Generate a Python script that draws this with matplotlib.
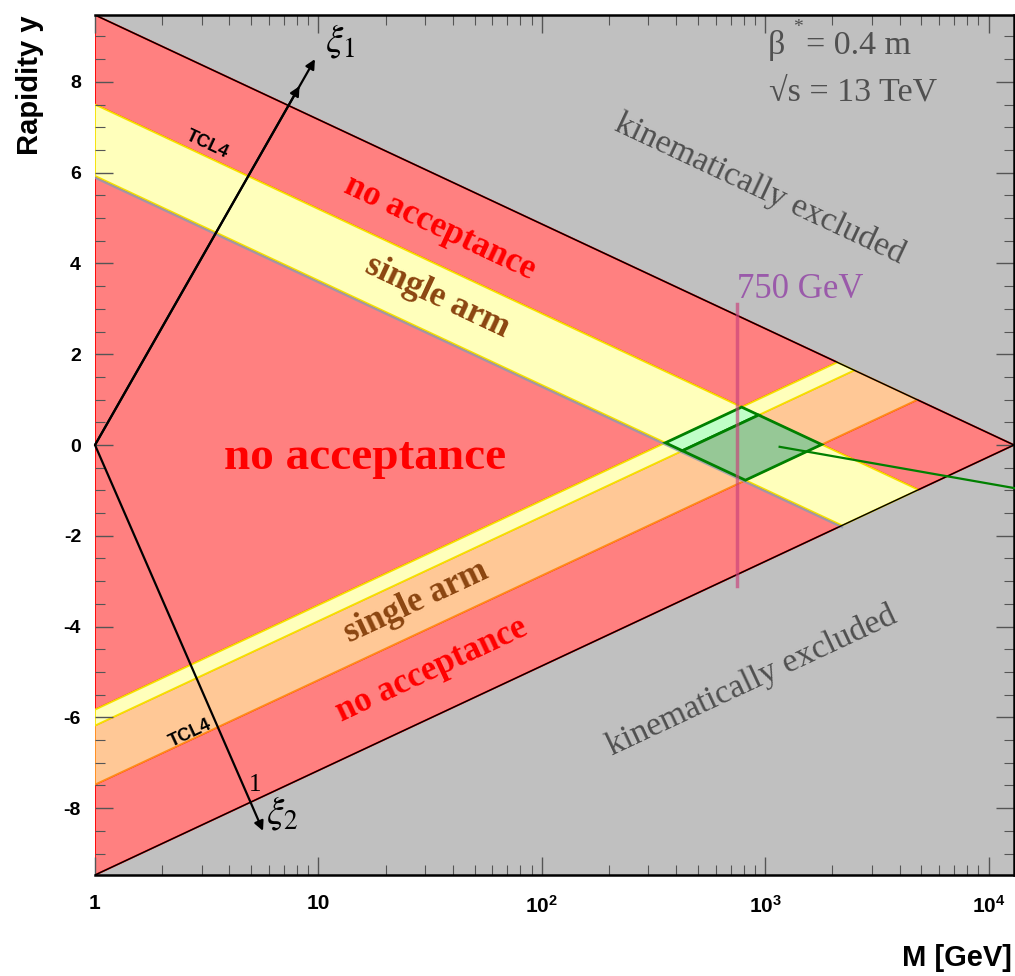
import numpy as np
import matplotlib
matplotlib.use('Agg')
import matplotlib.pyplot as plt
from matplotlib.patches import Polygon
from matplotlib.ticker import MultipleLocator, LogLocator, NullFormatter

# ---------------- data ----------------
sqrt_s = 13000.0                       # GeV
xi1_edges = [0.0289, 0.1391]           # arm 1 acceptance (upper, TCL4 at upper edge)
xi2_edges = [0.0262, 0.0372, 0.1363]   # arm 2: thin yellow / orange acceptance edges
m_mark = 750.0                         # GeV
m_mark_yrange = [-3.1, 3.1]
x_ticks = [1, 10, 100, 1000, 10000]
x_tick_labels = ['1', '10', r'$\mathbf{10^{2}}$', r'$\mathbf{10^{3}}$', r'$\mathbf{10^{4}}$']
y_ticks = [-8, -6, -4, -2, 0, 2, 4, 6, 8]

# colours
C_RED, E_RED = '#FF8080', '#FF0000'
C_YEL, E_YEL = '#FFFFBB', '#F5E000'
C_ORA, E_ORA = '#FFC896', '#FF8C1A'
C_LGR, C_DGR, E_GR = '#C0FFC8', '#96C896', '#008000'
BG = '#C0C0C0'

plt.rcParams['mathtext.fontset'] = 'custom'
plt.rcParams['mathtext.bf'] = 'Liberation Sans:bold'
plt.rcParams['mathtext.rm'] = 'Liberation Sans'

fig = plt.figure(figsize=(10.15, 9.76), dpi=100)
ax = fig.add_axes([95/1015, 101/976, 919/1015, 860/976])
ax.set_facecolor(BG)
L = np.log(sqrt_s)
ax.set_xscale('log')
ax.set_xlim(1, sqrt_s)
ax.set_ylim(-L, L)

P = [-60.0] + [np.log(x * sqrt_s) for x in xi1_edges] + [L]
Q = [-60.0] + [np.log(x * sqrt_s) for x in xi2_edges] + [L]

# cell colours: rows = p interval, columns = q interval
cell = [['r', 'y', 'o', 'r'],
        ['y', 'lg', 'dg', 'y'],
        ['r', 'y', 'o', 'r']]
style = {'r': (C_RED, E_RED, 1.0), 'y': (C_YEL, E_YEL, 1.2), 'o': (C_ORA, E_ORA, 1.1),
         'lg': (C_LGR, E_GR, 1.3), 'dg': (C_DGR, E_GR, 1.3)}


def clip(poly):
    out = []
    n = len(poly)
    for k in range(n):
        a, b = poly[k], poly[(k + 1) % n]
        fa, fb = a[0] + a[1], b[0] + b[1]
        if fa >= 0:
            out.append(a)
        if (fa >= 0) != (fb >= 0):
            t = fa / (fa - fb)
            out.append((a[0] + t * (b[0] - a[0]), a[1] + t * (b[1] - a[1])))
    return out


def to_my(pts):
    return [(np.exp((p + q) / 2.0), (p - q) / 2.0) for p, q in pts]


for i in range(3):
    for j in range(4):
        rect = [(P[i], Q[j]), (P[i + 1], Q[j]), (P[i + 1], Q[j + 1]), (P[i], Q[j + 1])]
        pts = clip(rect)
        if len(pts) < 3:
            continue
        fc, ec, z = style[cell[i][j]]
        lw = 2.0 if cell[i][j] in ('lg', 'dg') else 1.3
        ax.add_patch(Polygon(to_my(pts), closed=True, facecolor=fc, edgecolor=ec,
                             lw=lw, zorder=z))

# grey shading line under the lower edge of the upper yellow band
pa = P[1]
Mg = np.array([1.0, np.exp((pa + L) / 2.0)])
ax.plot(Mg, pa - np.log(Mg) - 0.04, color='#8C9CB0', lw=1.6, zorder=1.25, alpha=0.8)

# kinematic limits
Mk = np.array([1.0, sqrt_s])
ax.plot(Mk, L - np.log(Mk), color='black', lw=1.0, zorder=2)
ax.plot(Mk, np.log(Mk) - L, color='black', lw=1.0, zorder=2)

# 750 GeV line
ax.plot([m_mark, m_mark], m_mark_yrange, color='#C8407A', lw=2.5, alpha=0.65, zorder=2.2)
ax.text(745, 3.42, '750 GeV', color='#9A5AAA', fontsize=25, family='Liberation Serif',
        ha='left', va='center', zorder=5)

# green pointer line
ax.plot([1161, 13070], [-0.04, -0.95], color='#008000', lw=1.6, zorder=5, clip_on=False)

# xi arrows
arw = dict(arrowstyle='-|>', color='black', lw=1.6, mutation_scale=14, shrinkA=0, shrinkB=0)
ax.annotate('', xy=(9.65, 8.50), xytext=(1.0, 0.0), arrowprops=arw, zorder=6)
ax.annotate('', xy=(10 ** (0.93 * np.log10(9.65)), 0.93 * 8.50), xytext=(1.0, 0.0),
            arrowprops=arw, zorder=6)
ax.annotate('', xy=(5.65, -8.50), xytext=(1.0, 0.0), arrowprops=arw, zorder=6)
ax.text(12.5, 8.9, r'$\xi_{1}$', fontsize=28, math_fontfamily='stix', ha='center',
        va='center', zorder=6)
ax.text(6.9, -8.1, r'$\xi_{2}$', fontsize=28, math_fontfamily='stix', ha='center',
        va='center', zorder=6)
ax.text(5.2, -7.5, '1', fontsize=18, family='Liberation Serif', ha='center',
        va='center', zorder=6)

# rotation of slope -1 lines in display space
fig.canvas.draw()
p0 = ax.transData.transform((1.0, 0.0))
p1 = ax.transData.transform((np.e, -1.0))
ang = np.degrees(np.arctan2(p1[1] - p0[1], p1[0] - p0[0]))  # negative

serif_b = dict(family='Liberation Serif', weight='bold', ha='center', va='center',
               zorder=5, rotation_mode='anchor')
ax.text(16.1, -0.29, 'no acceptance', color='#FF0000', fontsize=34, **serif_b)
ax.text(35.0, 4.79, 'no acceptance', color='#FF0000', fontsize=25, rotation=ang, **serif_b)
ax.text(33.9, 3.27, 'single arm', color='#8B4510', fontsize=25, rotation=ang, **serif_b)
ax.text(27.3, -3.47, 'single arm', color='#8B4510', fontsize=25, rotation=-ang, **serif_b)
ax.text(32.2, -4.97, 'no acceptance', color='#FF0000', fontsize=25, rotation=-ang, **serif_b)

serif_g = dict(family='Liberation Serif', color='#505050', ha='center', va='center',
               zorder=5, rotation_mode='anchor')
ax.text(945, 5.63, 'kinematically excluded', fontsize=24.5, rotation=ang, **serif_g)
ax.text(871, -5.19, 'kinematically excluded', fontsize=24.5, rotation=-ang, **serif_g)

ax.text(1026, 8.79, '\u03b2', fontsize=24.5, family='Liberation Serif', color='#505050',
        ha='left', va='center', zorder=5)
ax.text(1330, 9.2, '*', fontsize=14, family='Liberation Serif', color='#505050',
        ha='left', va='center', zorder=5)
ax.text(1520, 8.79, '= 0.4 m', fontsize=24.5, family='Liberation Serif', color='#505050',
        ha='left', va='center', zorder=5)
ax.text(1040, 7.77, '\u221as = 13 TeV', fontsize=24.5, family=['Liberation Serif', 'DejaVu Serif'],
        color='#505050', ha='left', va='center', zorder=5)

sans_b = dict(family='Liberation Sans', weight='bold', color='black', ha='center',
              va='center', zorder=5, rotation_mode='anchor')
ax.text(3.17, 6.62, 'TCL4', fontsize=13, rotation=ang, **sans_b)
ax.text(2.66, -6.36, 'TCL4', fontsize=13, rotation=-ang, **sans_b)

# axes styling
ax.set_xticks(x_ticks)
ax.set_xticklabels(x_tick_labels)
ax.xaxis.set_minor_locator(LogLocator(base=10, subs=np.arange(2, 10)))
ax.xaxis.set_minor_formatter(NullFormatter())
ax.set_yticks(y_ticks)
ax.set_yticklabels([str(v) for v in y_ticks])
ax.yaxis.set_minor_locator(MultipleLocator(0.5))
ax.tick_params(which='both', direction='in', top=True, right=True, color='#555555')
ax.tick_params(which='major', length=13, width=1.0)
ax.tick_params(which='minor', length=7, width=0.8)
ax.tick_params(axis='y', which='major', labelsize=14, pad=10)
ax.tick_params(axis='x', which='major', labelsize=15, pad=14)
for lab in ax.get_xticklabels() + ax.get_yticklabels():
    lab.set_family('Liberation Sans')
    lab.set_weight('bold')
for s in ['top', 'right', 'bottom']:
    ax.spines[s].set_linewidth(1.8)
ax.spines['left'].set_visible(False)

fig.text(30/1015, 1 - 15/976, 'Rapidity y', rotation=90, ha='center', va='top',
         family='Liberation Sans', weight='bold', fontsize=21)
fig.text(1012/1015, 1 - 958/976, 'M [GeV]', ha='right', va='center',
         family='Liberation Sans', weight='bold', fontsize=21)

fig.savefig('out.png', dpi=100)
